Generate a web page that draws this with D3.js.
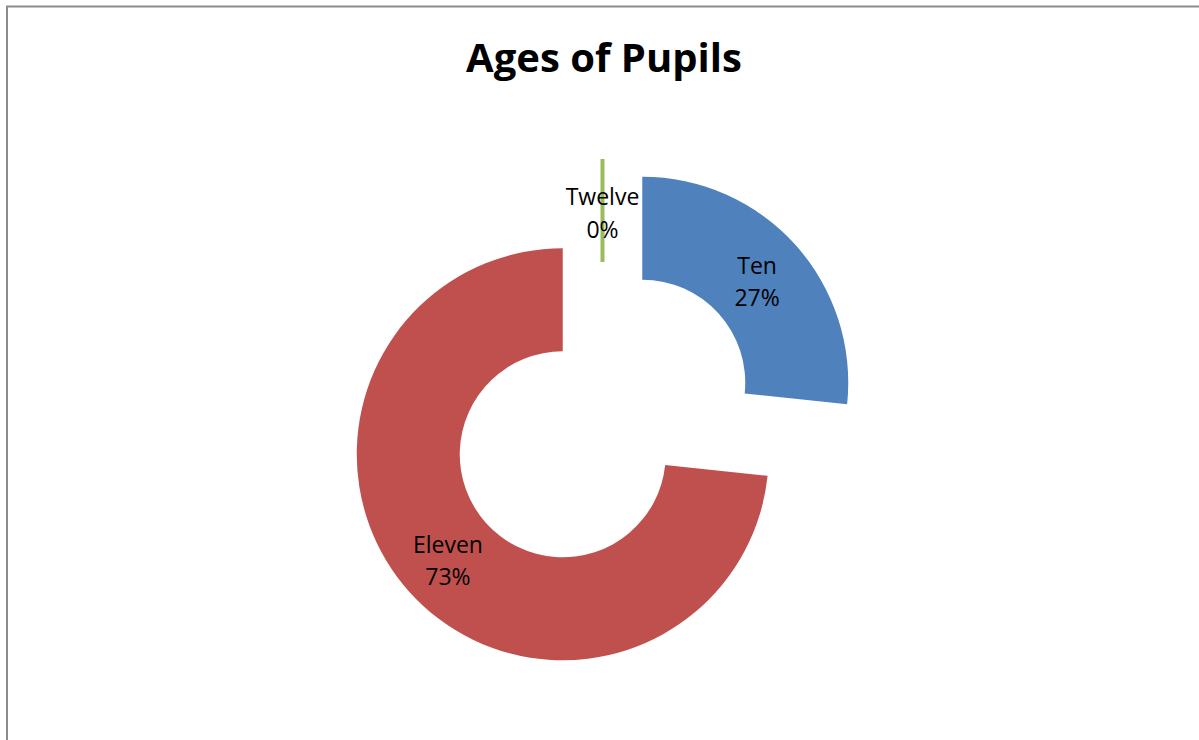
<!DOCTYPE html>
<html>
<head>
<meta charset="utf-8">
<script src="https://cdn.jsdelivr.net/npm/d3@7"></script>
<style>
  html, body { margin: 0; padding: 0; background: #fff; }
  svg { display: block; }
</style>
</head>
<body>
<svg id="chart" width="1199" height="740"></svg>
<script>
const categories = ["Ten", "Eleven", "Twelve"];
const values = [8, 22, 0];
const percentLabels = ["27%", "73%", "0%"];
const colors = ["#4F81BD", "#C0504D", "#9BBB59"];
const title = "Ages of Pupils";

const W = 1199, H = 740;
const svg = d3.select("#chart");

svg.append("rect")
  .attr("x", 7).attr("y", 6.5)
  .attr("width", 1300).attr("height", 900)
  .attr("fill", "#fff")
  .attr("stroke", "#8c8c8c")
  .attr("stroke-width", 2);

svg.append("text")
  .attr("x", 604).attr("y", 72)
  .attr("text-anchor", "middle")
  .attr("font-family", "'Open Sans', Lato, sans-serif")
  .attr("font-weight", "bold")
  .attr("font-size", 40)
  .attr("fill", "#000")
  .text(title);

const cx = 602.5, cy = 418.5;
const outerR = 206, innerR = 103;
const explode = 53.5;

const pie = d3.pie().sort(null).value(d => d.value);
const data = pie(categories.map((c, i) => ({ name: c, value: values[i], pct: percentLabels[i], color: colors[i] })));

const arc = d3.arc().innerRadius(innerR).outerRadius(outerR);

const g = svg.append("g").attr("transform", `translate(${cx},${cy})`);

const slices = g.selectAll("g.slice").data(data).enter().append("g")
  .attr("class", "slice")
  .attr("transform", d => {
    const a = (d.startAngle + d.endAngle) / 2;
    return `translate(${explode * Math.sin(a)},${-explode * Math.cos(a)})`;
  });

slices.append("path")
  .attr("d", arc)
  .attr("fill", d => d.data.color)
  .attr("stroke", d => d.data.value === 0 ? d.data.color : "none")
  .attr("stroke-width", d => d.data.value === 0 ? 4 : 0);

const lbl = slices.append("text")
  .attr("transform", d => `translate(${arc.centroid(d)})`)
  .attr("text-anchor", "middle")
  .attr("font-family", "'Open Sans', Lato, sans-serif")
  .attr("font-size", 23)
  .attr("fill", "#000");
lbl.append("tspan").attr("x", 0).attr("dy", "-0.22em").text(d => d.data.name);
lbl.append("tspan").attr("x", 0).attr("dy", "1.4em").text(d => d.data.pct);
</script>
</body>
</html>
